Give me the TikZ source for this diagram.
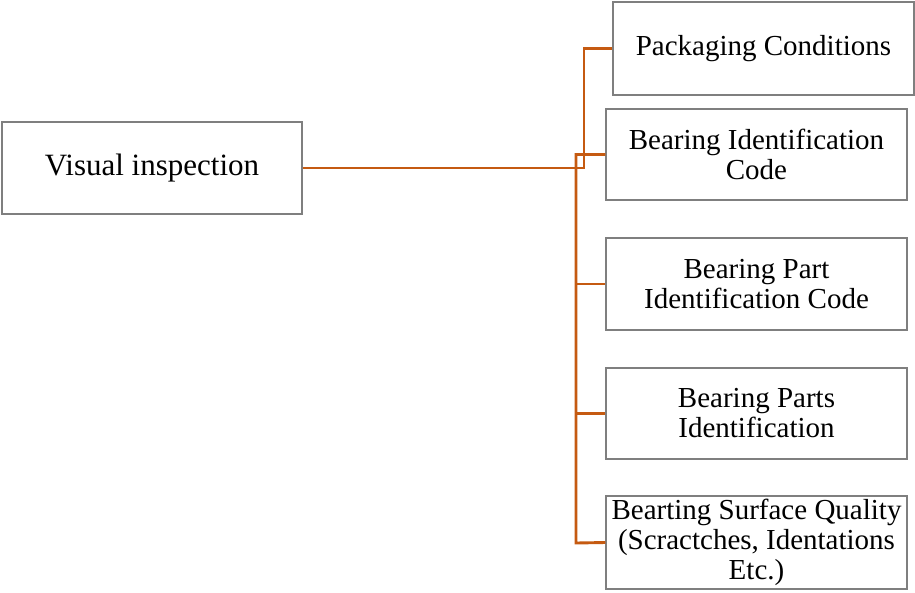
\documentclass[tikz,border=0pt]{standalone}
\usepackage{fontspec}
\setmainfont{Liberation Serif}
\usepackage{xcolor}
\usetikzlibrary{positioning,calc}
\definecolor{linkbrown}{HTML}{C55A11}
\definecolor{boxgray}{HTML}{7F7F7F}
\tikzset{
    item/.style={draw=boxgray, line width=1.4pt, rectangle, align=center, inner sep=0pt,
        font=\fontsize{29}{30}\selectfont},
    link/.style={draw=linkbrown, line width=2.9pt}
}
\begin{document}
\begin{tikzpicture}[x=1pt,y=-1pt]
    \useasboundingbox (0,0) rectangle (915,592);
    \node[item, minimum width=300pt, minimum height=92pt, font=\fontsize{31}{32}\selectfont] (vis) at (152,168) {Visual inspection};
    \node[item, minimum width=301pt, minimum height=93pt] (pack) at (763.5,48.5) {Packaging Conditions};
    \node[item, minimum width=301pt, minimum height=91pt] (bic) at (756.5,154.5) {Bearing Identification\\Code};
    \node[item, minimum width=301pt, minimum height=92pt] (bpic) at (756.5,284) {Bearing Part\\Identification Code};
    \node[item, minimum width=301pt, minimum height=91pt] (bpi) at (756.5,413.5) {Bearing Parts\\Identification};
    \node[item, minimum width=301pt, minimum height=93pt] (bsq) at (756.5,542.5) {Bearting Surface Quality\\(Scractches, Identations\\Etc.)};
    % connectors
    \coordinate (hub) at (584,168);
    \coordinate (trunk) at (576,543);
    \draw[link] (vis.east) -- (hub) |- (pack.west);
    \draw[link] (bic.west) -| (trunk) -- (bsq.west);
    \draw[link] (bpic.west -| trunk) -- (bpic.west);
    \draw[link] (bpi.west -| trunk) -- (bpi.west);
\end{tikzpicture}
\end{document}
